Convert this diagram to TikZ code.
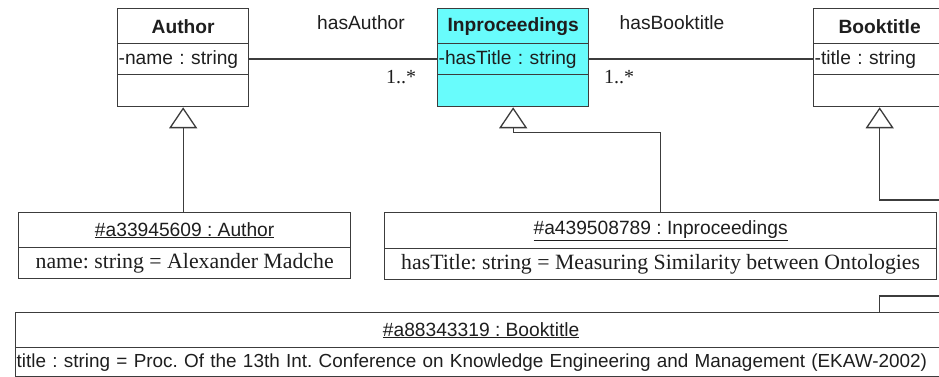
\documentclass[tikz,border=0pt]{standalone}
\usepackage{fontspec}
\setmainfont{Liberation Serif}
\setsansfont{Liberation Sans}
\usetikzlibrary{arrows.meta}
\frenchspacing
\definecolor{umlline}{RGB}{60,60,60}
\definecolor{umlcyan}{RGB}{104,252,252}
\definecolor{umltext}{RGB}{30,30,30}
\newcommand{\sansfs}{\sffamily\fontsize{19.2}{22}\selectfont}
\newcommand{\sanslong}{\sffamily\fontsize{18.9}{22}\selectfont}
\newcommand{\seriffs}{\rmfamily\fontsize{21.8}{25}\selectfont}
\tikzset{
  sect/.style={draw=umlline, line width=1.3pt, rectangle, inner sep=0pt,
    anchor=north west, text=umltext},
  namebox/.style={sect, font=\sansfs\bfseries},
  attrbox/.style={sect, font=\sansfs, inner xsep=1pt, align=left},
  objhead/.style={sect, font=\sansfs},
  objattr/.style={sect, font=\seriffs},
  conn/.style={draw=umlline, line width=1.3pt},
  gen/.style={conn, -{Triangle[open, length=21pt, width=28pt, line width=1.3pt]}},
  assoc/.style={font=\sansfs, text=umltext, inner sep=0pt},
  mult/.style={font=\rmfamily\fontsize{20}{24}\selectfont, text=umltext, inner sep=0pt}
}
\begin{document}
\begin{tikzpicture}[x=1pt, y=-1pt]
\useasboundingbox (0,0) rectangle (939,377);
\clip (0,0) rectangle (939,377);

% ---- classes ----
% Author
\node[namebox, minimum width=131pt, minimum height=35pt] (auth-h) at (117,8) {Author};
\node[attrbox, text width=129pt, minimum height=31pt] (auth-a) at (117,43) {-name : string};
\node[sect, minimum width=131pt, minimum height=32pt] (auth-o) at (117,74) {};

% Inproceedings
\node[namebox, fill=umlcyan, minimum width=151pt, minimum height=35pt] (inp-h) at (437,8) {Inproceedings};
\node[attrbox, fill=umlcyan, text width=149pt, minimum height=31pt] (inp-a) at (437,43) {-hasTitle : string};
\node[sect, fill=umlcyan, minimum width=151pt, minimum height=32pt] (inp-o) at (437,74) {};

% Booktitle
\node[namebox, minimum width=132pt, minimum height=35pt] (book-h) at (813,8) {Booktitle};
\node[attrbox, text width=130pt, minimum height=31pt] (book-a) at (813,43) {-title : string};
\node[sect, minimum width=132pt, minimum height=32pt] (book-o) at (813,74) {};

% ---- instances ----
\node[objhead, minimum width=332pt, minimum height=35pt] (aobj-h) at (18,212) {\underline{\#a33945609 : Author}};
\node[objattr, minimum width=332pt, minimum height=31pt] (aobj-a) at (18,247) {name: string = Alexander Madche};

\node[objhead, minimum width=552pt, minimum height=36pt] (iobj-h) at (384,212) {\underline{\#a439508789 : Inproceedings}};
\node[objattr, minimum width=552pt, minimum height=31pt] (iobj-a) at (384,248) {hasTitle: string = Measuring Similarity between Ontologies};

\node[objhead, minimum width=931pt, minimum height=35pt] (bobj-h) at (15,312) {\underline{\#a88343319 : Booktitle}};
\node[attrbox, font=\sanslong, text width=929pt, minimum height=29pt] (bobj-a) at (15,347) {title : string = Proc. Of the 13th Int. Conference on Knowledge Engineering and Management (EKAW-2002)};

% ---- associations ----
\draw[conn] (auth-a.east) -- (inp-a.west);
\draw[conn] (inp-a.east) -- (book-a.west);
\node[assoc] (lbl-auth) at (361,23) {hasAuthor};
\node[mult] (m-auth) at (401,77) {1..*};
\node[assoc] (lbl-book) at (672,23) {hasBooktitle};
\node[mult] (m-book) at (619,77) {1..*};

% ---- instance-of links ----
\draw[gen] (auth-o.south |- aobj-h.north) -- (auth-o.south);
\draw[gen] (iobj-h.north) |- ([yshift=-25pt]inp-o.south) -- (inp-o.south);
\coordinate (bk-out) at (960,200);
\draw[gen] (bk-out) -| (book-o.south);
\coordinate (bk-in) at (960,296);
\draw[conn] (bk-in) -| (book-o.south |- bobj-h.north);
\end{tikzpicture}
\end{document}
